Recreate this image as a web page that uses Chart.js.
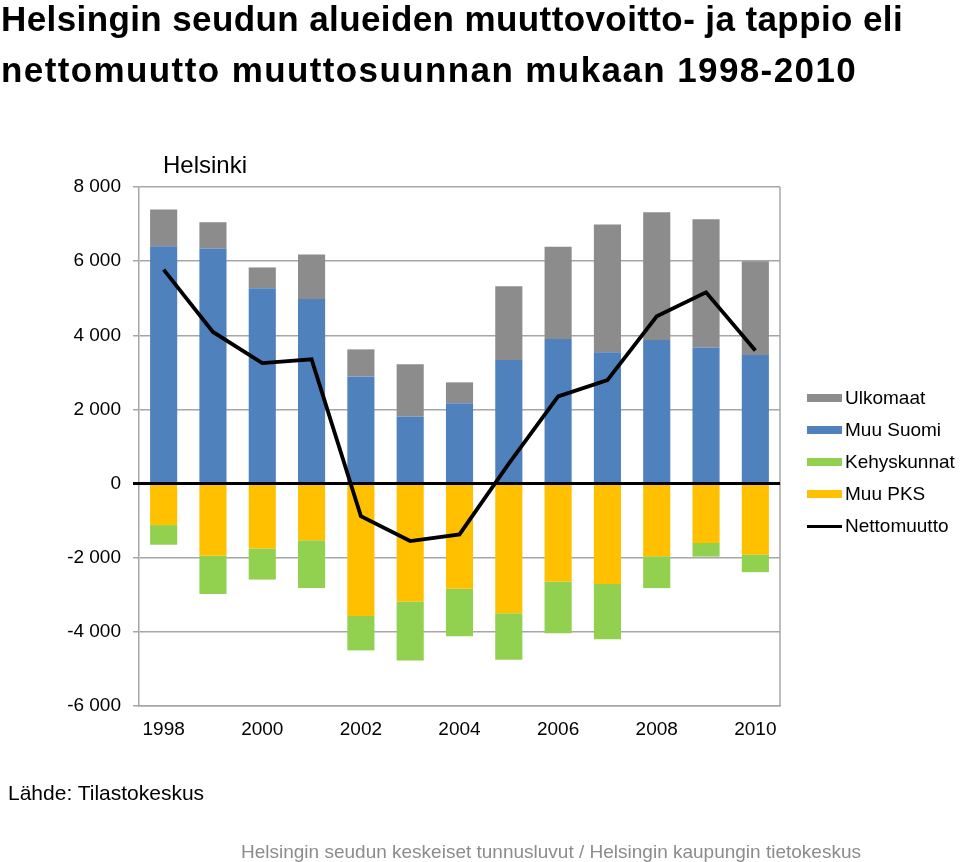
<!DOCTYPE html>
<html>
<head>
<meta charset="utf-8">
<script src="https://cdn.jsdelivr.net/npm/chart.js@4"></script>
<style>
  body { margin: 0; background: #fff; font-family: "Liberation Sans", Arial, sans-serif; }
  #wrap { position: relative; width: 960px; height: 862px; overflow: hidden; }
  #my-chart { position: absolute; left: 0; top: 0; }
  .txt { position: absolute; white-space: nowrap; color: #000; }
  .title { left: 1px; font-size: 35px; font-weight: bold; line-height: 52px; }
  #t1 { top: -7px; letter-spacing: 0.4px; }
  #t2 { top: 44px; letter-spacing: 1.4px; }
  #sub { left: 163px; top: 151px; font-size: 24px; }
  #source { left: 8px; top: 781px; font-size: 21px; }
  #footer { left: 241px; top: 841px; font-size: 19px; color: #8c8c8c; }
  #legend { position: absolute; left: 807px; top: 382px; font-size: 19px; }
  #legend div { height: 32px; display: flex; align-items: center; }
  #legend span.sw { display: inline-block; width: 35px; margin-right: 3px; }
</style>
</head>
<body>
<div id="wrap">
  <canvas id="my-chart" width="960" height="862"></canvas>
  <div class="txt title" id="t1">Helsingin seudun alueiden muuttovoitto- ja tappio eli</div>
  <div class="txt title" id="t2">nettomuutto muuttosuunnan mukaan 1998-2010</div>
  <div class="txt" id="sub">Helsinki</div>
  <div id="legend"></div>
  <div class="txt" id="source">Lähde: Tilastokeskus</div>
  <div class="txt" id="footer">Helsingin seudun keskeiset tunnusluvut / Helsingin kaupungin tietokeskus</div>
</div>
<script>
var years = ['1998','1999','2000','2001','2002','2003','2004','2005','2006','2007','2008','2009','2010'];
var muuSuomi = [6400, 6340, 5270, 4980, 2890, 1810, 2170, 3330, 3900, 3540, 3870, 3670, 3470];
var ulkomaat = [990, 710, 560, 1200, 730, 1410, 560, 1990, 2490, 3450, 3450, 3460, 2530];
var muuPKS = [-1120, -1950, -1750, -1530, -3570, -3180, -2840, -3500, -2650, -2710, -1960, -1600, -1910];
var kehyskunnat = [-530, -1030, -840, -1290, -930, -1590, -1280, -1250, -1390, -1490, -860, -370, -480];
var netto = [5770, 4090, 3250, 3350, -880, -1550, -1370, 540, 2350, 2790, 4510, 5160, 3590];

var gridGray = '#a6a6a6';

function bar(label, values, color) {
	return {
		type: 'bar',
		label: label,
		data: values,
		backgroundColor: color,
		borderWidth: 0,
		stack: 'bars',
		order: 1,
		categoryPercentage: 1,
		barPercentage: 0.55
	};
}

var datasets = [
	bar('Muu Suomi', muuSuomi, '#4f81bd'),
	bar('Ulkomaat', ulkomaat, '#8c8c8c'),
	bar('Muu PKS', muuPKS, '#ffc000'),
	bar('Kehyskunnat', kehyskunnat, '#92d050'),
	{
		type: 'line',
		label: 'Nettomuutto',
		data: netto,
		borderColor: '#000',
		borderWidth: 3.8,
		pointRadius: 0,
		tension: 0,
		stack: 'net',
		order: 0
	}
];

// frame + zero line over the bars
var framePlugin = {
	id: 'frame',
	afterDatasetsDraw: function(chart) {
		var a = chart.chartArea, c = chart.ctx;
		var y0 = chart.scales.y.getPixelForValue(0);
		c.save();
		c.strokeStyle = gridGray;
		c.lineWidth = 1.5;
		c.beginPath();
		c.moveTo(a.right, a.top);
		c.lineTo(a.right, a.bottom);
		c.stroke();
		c.strokeStyle = '#000';
		c.lineWidth = 3;
		c.beginPath();
		c.moveTo(a.left - 6, y0);
		c.lineTo(a.right, y0);
		c.stroke();
		c.restore();
	}
};

function fmt(v) {
	var s = String(Math.abs(v)).replace(/\B(?=(\d{3})+(?!\d))/g, ' ');
	return (v < 0 ? '-' : '') + s;
}

var ctx = document.getElementById('my-chart');
new Chart(ctx, {
	type: 'bar',
	data: { labels: years, datasets: datasets },
	options: {
		responsive: false,
		animation: false,
		layout: { padding: { top: 187, right: 180, bottom: 116, left: 0 } },
		plugins: { legend: { display: false }, tooltip: { enabled: false } },
		scales: {
			x: {
				stacked: true,
				offset: true,
				grid: { display: false, drawTicks: false },
				border: { color: gridGray, width: 1.5 },
				ticks: {
					autoSkip: false,
					maxRotation: 0,
					padding: 12,
					color: '#000',
					font: { family: '"Liberation Sans", Arial', size: 19 },
					callback: function(v, i) { return i % 2 === 0 ? years[i] : ''; }
				},
				afterFit: function(s) { s.height = 40; }
			},
			y: {
				stacked: true,
				min: -6000,
				max: 8000,
				grid: {
					color: function(c) { return c.tick && c.tick.value === 0 ? '#000' : gridGray; },
					lineWidth: 1.5,
					tickLength: 6
				},
				border: { color: gridGray, width: 1.5 },
				ticks: {
					stepSize: 2000,
					padding: 12,
					color: '#000',
					font: { family: '"Liberation Sans", Arial', size: 19 },
					callback: function(v) { return fmt(v); }
				},
				afterFit: function(s) { s.width = 139; }
			}
		}
	},
	plugins: [framePlugin]
});

// legend
var legendItems = [
	{ label: 'Ulkomaat', color: '#8c8c8c', h: 8 },
	{ label: 'Muu Suomi', color: '#4f81bd', h: 8 },
	{ label: 'Kehyskunnat', color: '#92d050', h: 8 },
	{ label: 'Muu PKS', color: '#ffc000', h: 8 },
	{ label: 'Nettomuutto', color: '#000', h: 3 }
];
var lg = document.getElementById('legend');
legendItems.forEach(function(it) {
	var row = document.createElement('div');
	var sw = document.createElement('span');
	sw.className = 'sw';
	sw.style.height = it.h + 'px';
	sw.style.background = it.color;
	row.appendChild(sw);
	row.appendChild(document.createTextNode(it.label));
	lg.appendChild(row);
});
</script>
</body>
</html>
